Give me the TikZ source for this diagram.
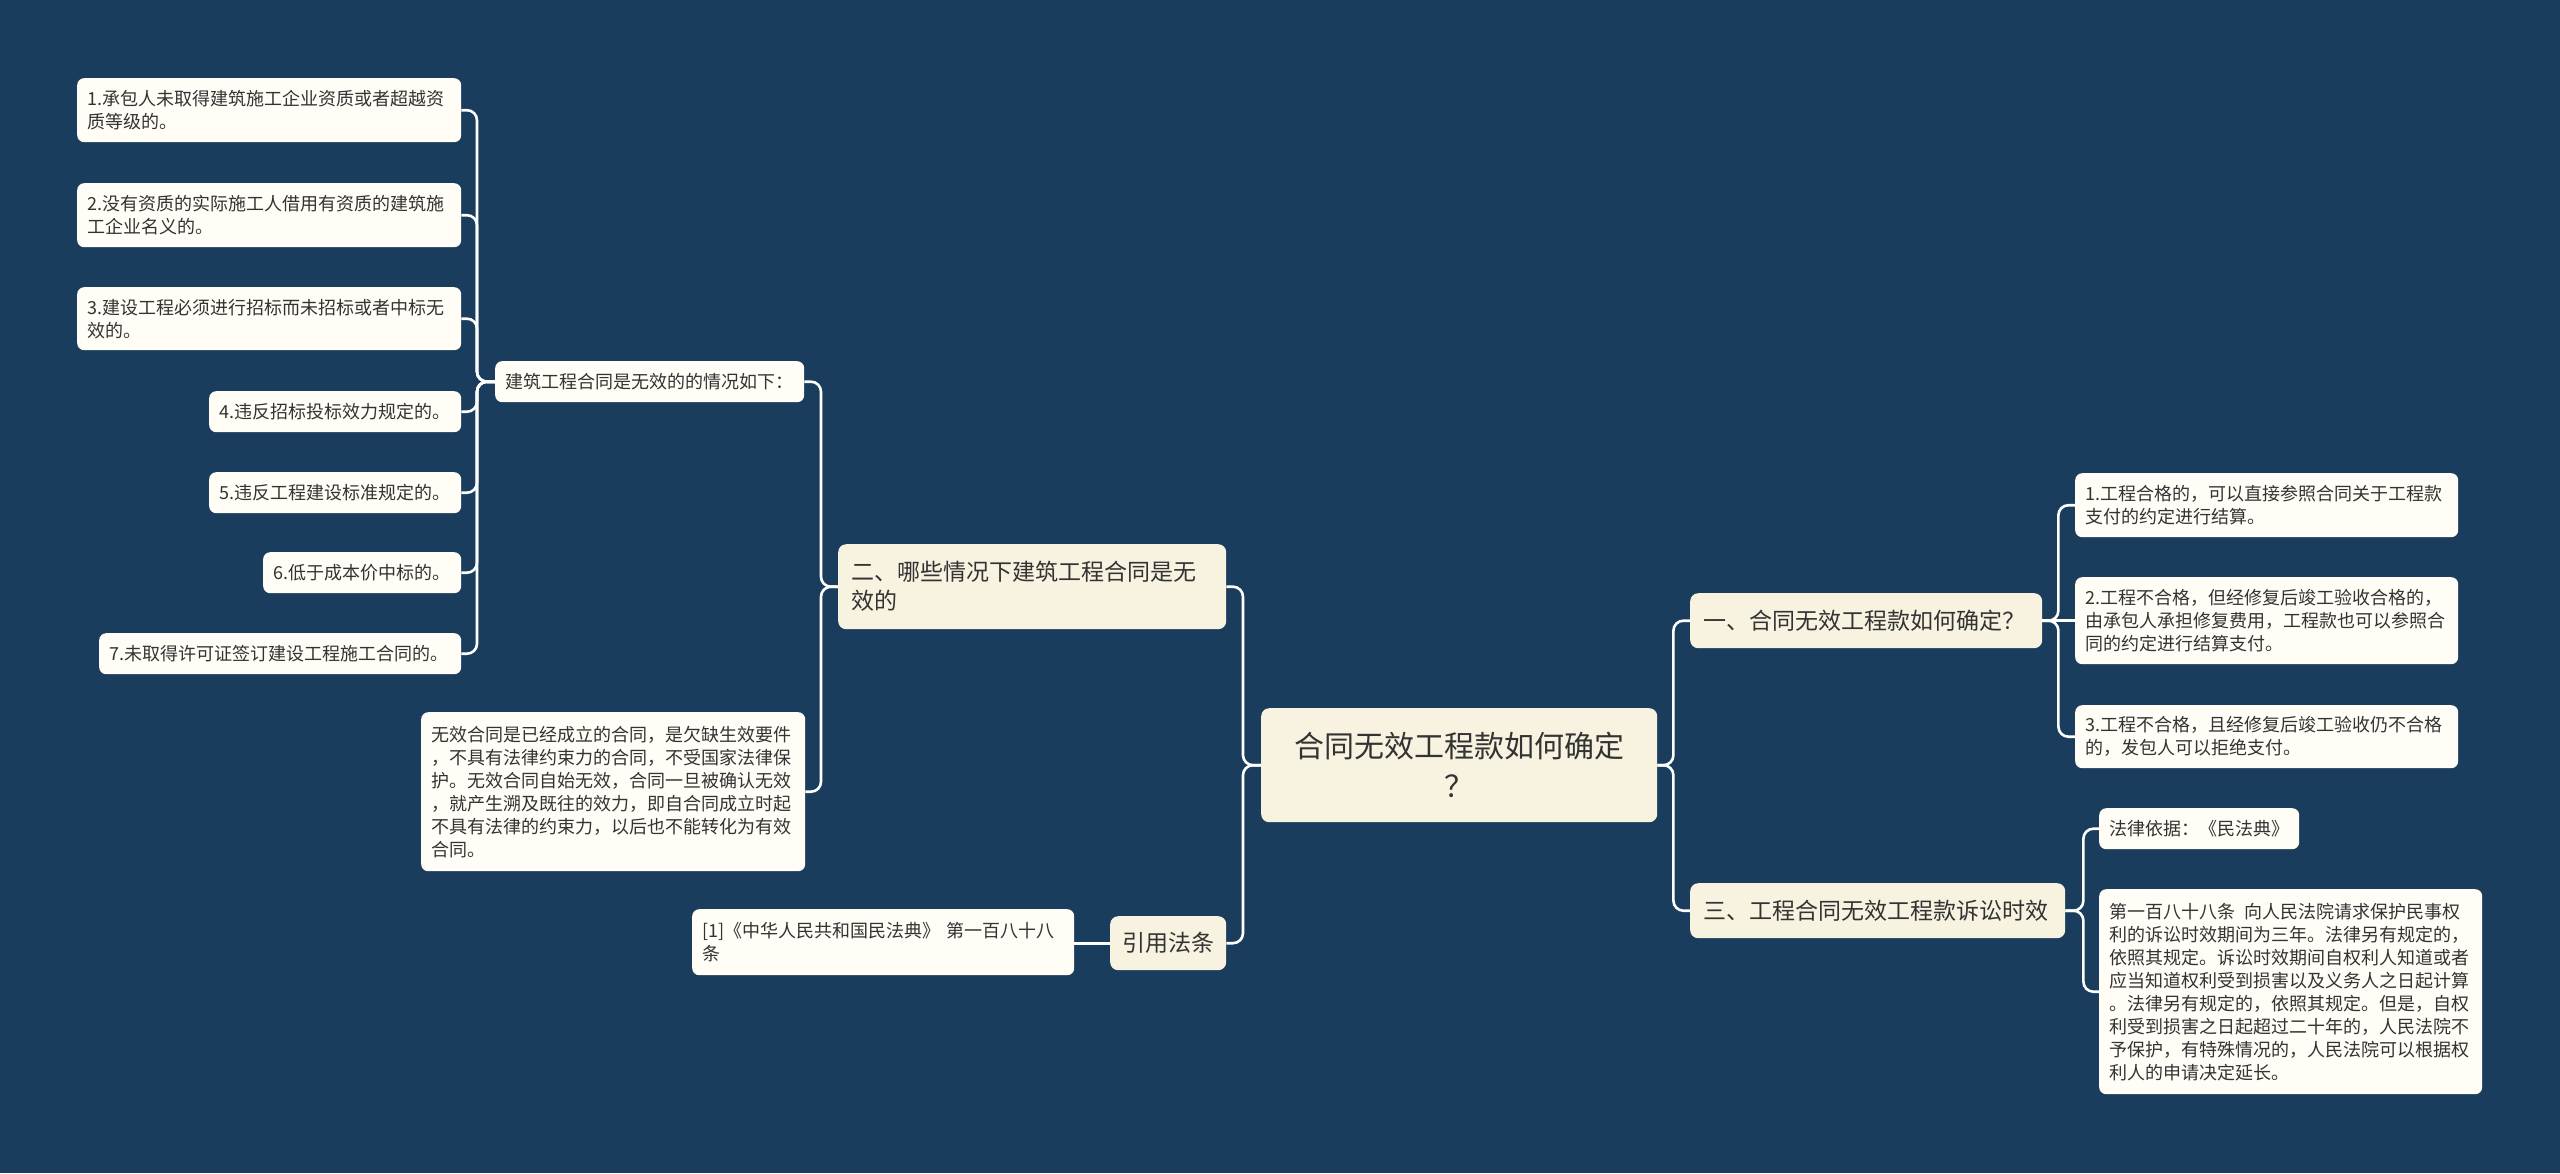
\documentclass[tikz,border=0pt]{standalone}
\usepackage{fontspec}
\setmainfont{Noto Sans CJK SC}
\definecolor{bg}{HTML}{1A3D5E}
\definecolor{cream}{HTML}{F8F3E0}
\definecolor{leafc}{HTML}{FFFDF6}
\definecolor{txt}{HTML}{333333}
\begin{document}
\begin{tikzpicture}[x=1pt,y=-1pt,
 conn/.style={draw=white, line width=2.6pt, rounded corners=10pt},
 leaf/.style={fill=leafc, rounded corners=7pt, anchor=north west, align=left, inner xsep=10pt, inner ysep=0pt, text=txt, font=\fontsize{18}{23}\selectfont},
 mainn/.style={fill=cream, rounded corners=8pt, anchor=north west, align=left, inner xsep=13pt, inner ysep=0pt, text=txt, font=\fontsize{23}{29}\selectfont}]
\fill[bg] (0,0) rectangle (2560,1173);
\useasboundingbox (0,0) rectangle (2560,1173);
% main nodes
\node[mainn, align=center, text width=370pt, minimum height=114pt, font=\fontsize{30}{40}\selectfont] (c) at (1261,708) {合同无效工程款如何确定\\？};
\node[mainn, text width=362pt, minimum height=85pt] (n2) at (838,544) {二、哪些情况下建筑工程合同是无\\效的};
\node[mainn, align=center, inner xsep=12pt, text width=92pt, minimum height=54pt] (yy) at (1110,916) {引用法条};
\node[mainn, text width=326pt, minimum height=55pt] (n1) at (1690,593) {一、合同无效工程款如何确定？};
\node[mainn, text width=349pt, minimum height=55pt] (n3) at (1690,883) {三、工程合同无效工程款诉讼时效};
% left leaves
\node[leaf, text width=364pt, minimum height=64pt] (l1) at (77,78) {1.承包人未取得建筑施工企业资质或者超越资\\质等级的。};
\node[leaf, text width=364pt, minimum height=64pt] (l2) at (77,183) {2.没有资质的实际施工人借用有资质的建筑施\\工企业名义的。};
\node[leaf, text width=364pt, minimum height=63pt] (l3) at (77,287) {3.建设工程必须进行招标而未招标或者中标无\\效的。};
\node[leaf, text width=232pt, minimum height=41pt] (l4) at (209,391) {4.违反招标投标效力规定的。};
\node[leaf, text width=232pt, minimum height=41pt] (l5) at (209,472) {5.违反工程建设标准规定的。};
\node[leaf, text width=178pt, minimum height=41pt] (l6) at (263,552) {6.低于成本价中标的。};
\node[leaf, text width=342pt, minimum height=41pt] (l7) at (99,633) {7.未取得许可证签订建设工程施工合同的。};
\node[leaf, text width=289pt, minimum height=41pt] (jz) at (495,361) {建筑工程合同是无效的的情况如下：};
\node[leaf, text width=364pt, minimum height=159pt] (wx) at (421,712) {无效合同是已经成立的合同，是欠缺生效要件\\，不具有法律约束力的合同，不受国家法律保\\护。无效合同自始无效，合同一旦被确认无效\\，就产生溯及既往的效力，即自合同成立时起\\不具有法律的约束力，以后也不能转化为有效\\合同。};
\node[leaf, text width=362pt, minimum height=66pt] (ref) at (692,909) {[1]《中华人民共和国民法典》\ 第一百八十八\\条};
% right leaves
\node[leaf, text width=363pt, minimum height=64pt] (r1) at (2075,473) {1.工程合格的，可以直接参照合同关于工程款\\支付的约定进行结算。};
\node[leaf, text width=363pt, minimum height=87pt] (r2) at (2075,577) {2.工程不合格，但经修复后竣工验收合格的，\\由承包人承担修复费用，工程款也可以参照合\\同的约定进行结算支付。};
\node[leaf, text width=363pt, minimum height=63pt] (r3) at (2075,705) {3.工程不合格，且经修复后竣工验收仍不合格\\的，发包人可以拒绝支付。};
\node[leaf, text width=180pt, minimum height=41pt] (fl) at (2099,808) {法律依据：《民法典》};
\node[leaf, text width=363pt, minimum height=205pt] (lg) at (2099,889) {第一百八十八条\hspace{9pt}向人民法院请求保护民事权\\利的诉讼时效期间为三年。法律另有规定的，\\依照其规定。诉讼时效期间自权利人知道或者\\应当知道权利受到损害以及义务人之日起计算\\。法律另有规定的，依照其规定。但是，自权\\利受到损害之日起超过二十年的，人民法院不\\予保护，有特殊情况的，人民法院可以根据权\\利人的申请决定延长。};
% connectors
\draw[conn] (c.west) -- ++(-18,0) |- (n2.east);
\draw[conn] (c.west) -- ++(-18,0) |- (yy.east);
\draw[conn] (c.east) -- ++(16,0) |- (n1.west);
\draw[conn] (c.east) -- ++(16,0) |- (n3.west);
\draw[conn] (n2.west) -- ++(-17,0) |- (jz.east);
\draw[conn] (n2.west) -- ++(-17,0) |- (wx.east);
\foreach \k in {l1,l2,l3,l4,l5,l6,l7}{
  \draw[conn] (jz.west) -- ++(-18,0) |- (\k.east);
}
\draw[conn] (yy.west) -- (yy.west -| ref.east);
\draw[conn] (n1.east) -- ++(16,0) |- (r1.west);
\draw[conn] (n1.east) -- (n1.east -| r2.west);
\draw[conn] (n1.east) -- ++(16,0) |- (r3.west);
\draw[conn] (n3.east) -- ++(18,0) |- (fl.west);
\draw[conn] (n3.east) -- ++(18,0) |- (lg.west);
\end{tikzpicture}
\end{document}
